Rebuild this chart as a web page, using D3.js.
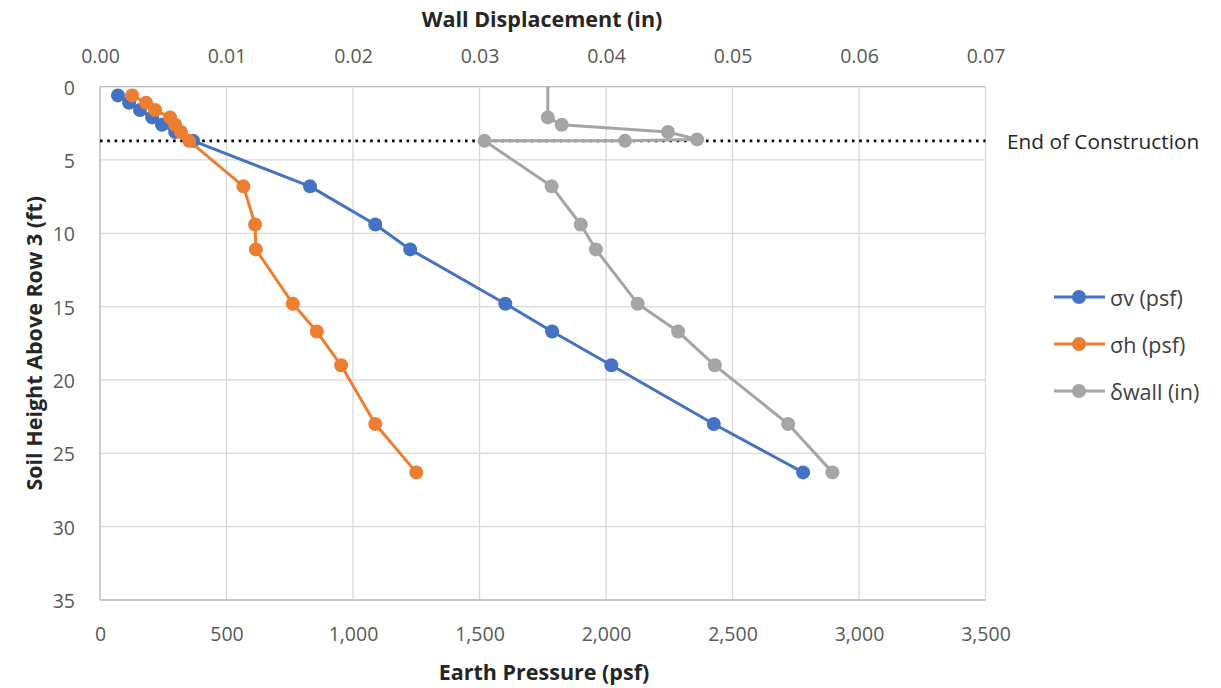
<!DOCTYPE html>
<html>
<head>
<meta charset="utf-8">
<script src="https://cdn.jsdelivr.net/npm/d3@7"></script>
<style>
  html, body { margin: 0; padding: 0; background: #fff; }
  svg { display: block; font-family: "Open Sans", Lato, sans-serif; }
</style>
</head>
<body>
<svg id="chart" width="1221" height="688"></svg>
<script>
// Soil height above row 3 (ft) at each reading
const depthFt = [0.6, 1.1, 1.6, 2.1, 2.6, 3.1, 3.7, 6.8, 9.4, 11.1, 14.8, 16.7, 19.0, 23.0, 26.3];
// Vertical earth pressure (psf)
const sigmaV = [71, 115, 158, 206, 245, 297, 368, 830, 1088, 1226, 1602, 1787, 2021, 2426, 2779];
// Horizontal earth pressure (psf)
const sigmaH = [127, 182, 218, 277, 297, 320, 352, 567, 613, 616, 762, 857, 953, 1088, 1250];
// Wall displacement readings: depth (ft) and displacement (in)
const wallDepthFt = [-1, 2.1, 2.6, 3.1, 3.6, 3.7, 3.7, 6.8, 9.4, 11.1, 14.8, 16.7, 19.0, 23.0, 26.3];
const wallDisp = [0.0354, 0.0354, 0.0365, 0.0449, 0.0472, 0.0415, 0.0304, 0.0357, 0.0380, 0.0392, 0.0425, 0.0457, 0.0486, 0.0544, 0.0579];
// End of construction soil height (ft)
const endOfConstructionFt = 3.7;

// Axis ticks
const pressureTicks = [0, 500, 1000, 1500, 2000, 2500, 3000, 3500];
const dispTicks = [0, 0.01, 0.02, 0.03, 0.04, 0.05, 0.06, 0.07];
const depthTicks = [0, 5, 10, 15, 20, 25, 30, 35];

const seriesNames = ["\u03c3v (psf)", "\u03c3h (psf)", "\u03b4wall (in)"];
const colors = ["#4472C4", "#ED7D31", "#A5A5A5"];

const svg = d3.select("#chart");
const plot = { left: 100, right: 985.5, top: 86.6, bottom: 600 };

const x = d3.scaleLinear().domain([0, 3500]).range([plot.left, plot.right]);
const x2 = d3.scaleLinear().domain([0, 0.07]).range([plot.left, plot.right]);
const y = d3.scaleLinear().domain([0, 35]).range([plot.top, plot.bottom]);

const gridColor = "#D9D9D9";
const tickColor = "#595959";
const fontFamily = "'Open Sans', Lato, sans-serif";

// Gridlines
const grid = svg.append("g");
grid.selectAll("line.v").data(pressureTicks).join("line")
  .attr("x1", d => x(d)).attr("x2", d => x(d))
  .attr("y1", plot.top).attr("y2", plot.bottom)
  .attr("stroke", gridColor).attr("stroke-width", 1.3);
grid.selectAll("line.h").data(depthTicks).join("line")
  .attr("x1", plot.left).attr("x2", plot.right)
  .attr("y1", d => y(d)).attr("y2", d => y(d))
  .attr("stroke", gridColor).attr("stroke-width", 1.3);

// Plot frame on the axis sides, slightly darker
const frame = svg.append("g").attr("stroke", "#BFBFBF").attr("stroke-width", 1.3);
frame.append("line").attr("x1", plot.left).attr("x2", plot.left).attr("y1", plot.top).attr("y2", plot.bottom);
frame.append("line").attr("x1", plot.left).attr("x2", plot.right).attr("y1", plot.bottom).attr("y2", plot.bottom);
frame.append("line").attr("x1", plot.left).attr("x2", plot.right).attr("y1", plot.top).attr("y2", plot.top);

// Bottom axis: earth pressure
const xAxis = d3.axisBottom(x).tickValues(pressureTicks).tickSize(0).tickPadding(0)
  .tickFormat(d3.format(","));
const gx = svg.append("g").attr("transform", `translate(0,${plot.bottom + 33})`).call(xAxis);
// Top axis: wall displacement
const x2Axis = d3.axisTop(x2).tickValues(dispTicks).tickSize(0).tickPadding(0)
  .tickFormat(d3.format(".2f"));
const gx2 = svg.append("g").attr("transform", `translate(0,${plot.top - 31})`).call(x2Axis);
// Left axis: soil height
const yAxis = d3.axisLeft(y).tickValues(depthTicks).tickSize(0).tickPadding(0);
const gy = svg.append("g").attr("transform", `translate(${plot.left - 25},0)`).call(yAxis);

[gx, gx2, gy].forEach(g => {
  g.select(".domain").remove();
  g.selectAll("text").attr("fill", tickColor).attr("dy", null)
    .attr("dominant-baseline", "central")
    .style("font-size", "19.5px").style("font-family", fontFamily);
});

// Axis titles
const titleStyle = sel => sel.attr("fill", "#262626").style("font-size", "21.5px")
  .style("font-weight", "bold").attr("text-anchor", "middle").attr("dominant-baseline", "central");
svg.append("text").attr("x", 544).attr("y", 671)
  .text("Earth Pressure (psf)").call(titleStyle);
svg.append("text").attr("x", 542).attr("y", 18)
  .text("Wall Displacement (in)").call(titleStyle);
svg.append("text")
  .attr("transform", `translate(33,${(plot.top + plot.bottom) / 2}) rotate(-90)`)
  .text("Soil Height Above Row 3 (ft)").call(titleStyle);

// Clip for the series so out-of-range readings are cut at the plot edge
svg.append("clipPath").attr("id", "plotClip").append("rect")
  .attr("x", plot.left).attr("y", plot.top)
  .attr("width", plot.right - plot.left).attr("height", plot.bottom - plot.top);

// End of construction marker line
svg.append("line")
  .attr("x1", plot.left).attr("x2", plot.right)
  .attr("y1", y(endOfConstructionFt)).attr("y2", y(endOfConstructionFt))
  .attr("stroke", "#000").attr("stroke-width", 2.6).attr("stroke-dasharray", "2.6,4.7");
svg.append("text").attr("x", 1007).attr("y", y(endOfConstructionFt))
  .attr("dominant-baseline", "central").attr("fill", "#262626")
  .style("font-size", "20.8px").text("End of Construction");

const series = [
  { xs: sigmaV, ys: depthFt, sx: x },
  { xs: sigmaH, ys: depthFt, sx: x },
  { xs: wallDisp, ys: wallDepthFt, sx: x2 }
];

const gSeries = svg.append("g").attr("clip-path", "url(#plotClip)");
series.forEach((s, i) => {
  const pts = s.xs.map((v, k) => [s.sx(v), y(s.ys[k])]);
  gSeries.append("path").datum(pts)
    .attr("d", d3.line())
    .attr("fill", "none").attr("stroke", colors[i]).attr("stroke-width", 3)
    .attr("stroke-linejoin", "round");
  gSeries.append("g").selectAll("circle").data(pts).join("circle")
    .attr("cx", d => d[0]).attr("cy", d => d[1]).attr("r", 7)
    .attr("fill", colors[i]);
});

// Legend
const legend = svg.append("g");
seriesNames.forEach((name, i) => {
  const ly = 297 + i * 47;
  legend.append("line").attr("x1", 1054).attr("x2", 1105).attr("y1", ly).attr("y2", ly)
    .attr("stroke", colors[i]).attr("stroke-width", 3);
  legend.append("circle").attr("cx", 1079).attr("cy", ly).attr("r", 7).attr("fill", colors[i]);
  legend.append("text").attr("x", 1110).attr("y", ly).attr("dominant-baseline", "central")
    .attr("fill", "#404040").style("font-size", "21.5px").text(name);
});
</script>
</body>
</html>
